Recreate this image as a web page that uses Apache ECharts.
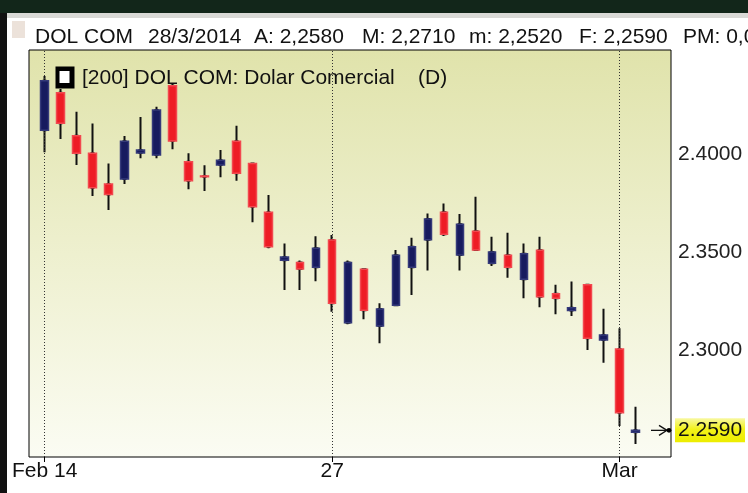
<!DOCTYPE html>
<html>
<head>
<meta charset="utf-8">
<script src="https://cdn.jsdelivr.net/npm/echarts@6/dist/echarts.min.js"></script>
<style>
html,body{margin:0;padding:0;background:#fff;}
#c{width:748px;height:493px;}
</style>
</head>
<body>
<div id="c"></div>
<script>
// ---- data ----
const opens  = [2.4121,2.4313,2.4093,2.4004,2.3847,2.3872,2.4005,2.3995,2.4348,2.3961,2.3888,2.3944,2.4065,2.3951,2.3703,2.3458,2.3447,2.3422,2.3561,2.3139,2.3412,2.3122,2.3228,2.3422,2.3563,2.3703,2.3485,2.3606,2.3442,2.3483,2.3361,2.3509,2.3287,2.3201,2.3333,2.3051,2.3005,2.2580];
const closes = [2.4374,2.4157,2.4004,2.3828,2.3794,2.4065,2.4020,2.4224,2.4066,2.3864,2.3884,2.3968,2.3902,2.3731,2.3527,2.3474,2.3413,2.3519,2.3238,2.3447,2.3203,2.3209,2.3483,2.3527,2.3668,2.3590,2.3641,2.3510,2.3500,2.3422,2.3491,2.3272,2.3264,2.3216,2.3060,2.3077,2.2680,2.2590];
const lows   = [2.4009,2.4077,2.3944,2.3786,2.3714,2.3847,2.3978,2.3978,2.4024,2.3820,2.3811,2.3881,2.3864,2.3652,2.3519,2.3306,2.3306,2.3351,2.3195,2.3131,2.3157,2.3034,2.3224,2.3281,2.3405,2.3582,2.3405,2.3508,2.3429,2.3369,2.3264,2.3218,2.3182,2.3173,2.3000,2.2935,2.2612,2.2520];
const highs  = [2.4398,2.4332,2.4216,2.4155,2.3951,2.4092,2.4189,2.4241,2.4361,2.4004,2.3942,2.4020,2.4144,2.3955,2.3791,2.3544,2.3456,2.3580,2.3587,2.3456,2.3416,2.3238,2.3510,2.3573,2.3697,2.3748,2.3694,2.3782,2.3578,2.3598,2.3544,2.3578,2.3333,2.3350,2.3337,2.3211,2.3111,2.2710];
const xTickIndex  = [0, 18, 36];
const xTickLabels = ['Feb 14', '27', 'Mar'];
const yTickValues = [2.30, 2.35, 2.40];
const headerTexts = ['DOL COM', '28/3/2014', 'A: 2,2580', 'M: 2,2710', 'm: 2,2520', 'F: 2,2590', 'PM: 0,0'];
const legendText = '[200] DOL COM: Dolar Comercial';
const legendPeriod = '(D)';

const categories = opens.map((_, i) => String(i));
const wickData = opens.map((o, i) => [o, closes[i], lows[i], highs[i]]);
const bodyData = opens.map((o, i) => [o, closes[i], Math.min(o, closes[i]), Math.max(o, closes[i])]);

const Y_MIN = 2.24541, Y_MAX = 2.45306;
const FONT = 'Liberation Sans, Arial, sans-serif';

const chart = echarts.init(document.getElementById('c'), null, {renderer: 'canvas'});

const headerX = [35, 148, 254, 362, 469, 579, 683];

const option = {
  animation: false,
  backgroundColor: '#ffffff',
  grid: [
    { left: 29, right: 77, top: 50, bottom: 36, show: true,
      borderColor: '#000', borderWidth: 1,
      backgroundColor: {type: 'linear', x: 0, y: 0, x2: 0, y2: 1,
        colorStops: [{offset: 0, color: '#e0e3ab'}, {offset: 0.5, color: '#eef0cf'}, {offset: 1, color: '#fbfcf3'}]} },
    { left: 36.7, right: 104.4, top: 50, bottom: 36, show: false }
  ],
  xAxis: [
    { type: 'value', gridIndex: 0, show: false, min: 0, max: 1 },
    { type: 'category', gridIndex: 1, data: categories, boundaryGap: true,
      axisLine: {show: false},
      axisTick: {show: true, alignWithLabel: true, length: 5,
        interval: (i) => xTickIndex.indexOf(i) >= 0,
        lineStyle: {color: '#000', width: 1}},
      axisLabel: {show: true, margin: 4, fontSize: 21, fontFamily: FONT, color: '#111',
        interval: (i) => xTickIndex.indexOf(i) >= 0,
        formatter: (v, i) => { const k = xTickIndex.indexOf(i); return k >= 0 ? xTickLabels[k] : ''; }},
      splitLine: {show: false} }
  ],
  yAxis: [
    { type: 'value', gridIndex: 0, position: 'right', min: Y_MIN, max: Y_MAX, scale: true,
      axisLine: {show: false}, axisTick: {show: false}, splitLine: {show: false},
      axisLabel: {show: true, customValues: yTickValues, margin: 7, fontSize: 21, fontFamily: FONT, color: '#222',
        formatter: (v) => v.toFixed(4)} },
    { type: 'value', gridIndex: 1, min: Y_MIN, max: Y_MAX, scale: true, show: false, splitLine: {show: false} }
  ],
  series: [
    { type: 'candlestick', name: 'wicks', xAxisIndex: 1, yAxisIndex: 1, data: wickData,
      barWidth: 3, z: 2, silent: true,
      itemStyle: {color: '#111', color0: '#111', borderColor: '#111', borderColor0: '#111', borderWidth: 2},
      markLine: { silent: true, symbol: ['none', 'none'], label: {show: false},
        lineStyle: {type: [1, 2], color: '#333', width: 1},
        data: xTickIndex.map(i => ({xAxis: i})) } },
    { type: 'candlestick', name: 'bodies', xAxisIndex: 1, yAxisIndex: 1, data: bodyData,
      barWidth: 8, z: 3, zlevel: 1, silent: true,
      itemStyle: {color: '#171b5f', color0: '#ee1c25', borderColor: '#353a7a', borderColor0: '#f2484f', borderWidth: 1.5} }
  ],
  graphic: [
    { id: 'topbar', type: 'rect', shape: {x: 0, y: 0, width: 748, height: 13}, style: {fill: '#12261a'}, silent: true },
    { id: 'band', type: 'rect', shape: {x: 0, y: 13, width: 748, height: 5}, style: {fill: '#d9d9d6'}, silent: true },
    { id: 'leftbar', type: 'rect', shape: {x: 0, y: 13, width: 7, height: 480}, style: {fill: '#111'}, silent: true },
    { id: 'sq', type: 'rect', shape: {x: 12, y: 21, width: 13, height: 17}, style: {fill: '#ece2da'}, silent: true },
    ...headerTexts.map((t, i) => ({ id: 'h' + i, type: 'text', x: headerX[i], y: 37, silent: true,
      style: {text: t, fill: '#111', font: '21px ' + FONT, textVerticalAlign: 'middle'} })),
    { id: 'lgbox', type: 'rect', shape: {x: 55.5, y: 66.5, width: 19, height: 22}, style: {fill: '#000'}, silent: true, z: 10 },
    { id: 'lgin', type: 'rect', shape: {x: 59.5, y: 71, width: 10, height: 12}, style: {fill: '#fff'}, silent: true, z: 11 },
    { id: 'lgtext', type: 'text', x: 82, y: 78, silent: true, z: 10,
      style: {text: legendText, fill: '#111', font: '21px ' + FONT, textVerticalAlign: 'middle'} },
    { id: 'lgper', type: 'text', x: 418, y: 78, silent: true, z: 10,
      style: {text: legendPeriod, fill: '#111', font: '21px ' + FONT, textVerticalAlign: 'middle'} }
  ]
};
chart.setOption(option);

// last close marker, positioned through the y scale
const lastClose = closes[closes.length - 1];
const yPix = chart.convertToPixel({yAxisIndex: 0}, lastClose);
chart.setOption({
  graphic: [
    { id: 'arrLine', type: 'line', shape: {x1: 651, y1: yPix, x2: 667, y2: yPix}, style: {stroke: '#111', lineWidth: 1.3}, silent: true, z: 20 },
    { id: 'arrHead', type: 'polyline', shape: {points: [[659, yPix - 5], [667, yPix], [659, yPix + 5]]}, style: {stroke: '#111', lineWidth: 1.3, fill: null}, silent: true, z: 20 },
    { id: 'arrDot', type: 'circle', shape: {cx: 669, cy: yPix, r: 2.4}, style: {fill: '#000'}, silent: true, z: 20 },
    { id: 'lastBg', type: 'rect', shape: {x: 675, y: yPix - 12, width: 70, height: 24}, silent: true, z: 20,
      style: {fill: {type: 'linear', x: 0, y: 0, x2: 0, y2: 1,
        colorStops: [{offset: 0, color: '#f8f8a0'}, {offset: 0.45, color: '#f2f21a'}, {offset: 1, color: '#eded00'}]}} },
    { id: 'lastTxt', type: 'text', x: 678, y: yPix, silent: true, z: 21,
      style: {text: lastClose.toFixed(4), fill: '#111', font: '21px ' + FONT, textVerticalAlign: 'middle'} }
  ]
});
</script>
</body>
</html>
